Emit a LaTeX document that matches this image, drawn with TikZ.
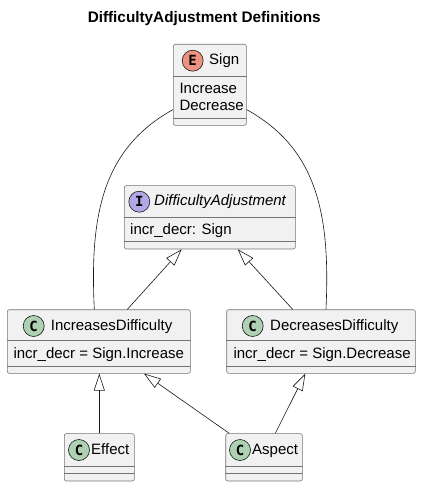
\documentclass[tikz,border=0pt]{standalone}
\usepackage{fontspec}
\setmainfont{Liberation Sans}
\newfontfamily\spotfont{DejaVu Sans Mono}
\usetikzlibrary{arrows.meta}

\definecolor{boxfill}{HTML}{F1F1F1}
\definecolor{boxline}{HTML}{181818}
\definecolor{enumspot}{HTML}{EB937F}
\definecolor{ifacespot}{HTML}{B4A7E5}
\definecolor{classspot}{HTML}{ADD1B2}

\tikzset{
  umlbox/.style={draw=boxline!60, line width=0.6pt, fill=boxfill, rounded corners=2pt, inner sep=0pt},
  spot/.style={circle, draw=boxline, line width=0.6pt, minimum size=21pt, inner sep=0pt,
    font=\spotfont\fontsize{14}{14}\selectfont\bfseries},
  lbl/.style={anchor=west, inner sep=0pt, text height=11pt, text depth=3pt,
    font=\fontsize{15}{18}\selectfont},
  sep/.style={draw=boxline!60, line width=0.6pt},
  extends/.style={draw=boxline, line width=0.6pt, -{Triangle[open, length=17pt, width=11pt]}},
  assoc/.style={draw=boxline, line width=0.6pt},
}

\begin{document}
\begin{tikzpicture}[x=1pt, y=-1pt]
    \useasboundingbox (0,0) rectangle (421,487);

    \node[font=\fontsize{15.3}{18}\selectfont\bfseries] (title) at (204.2,19) {DifficultyAdjustment Definitions};

    % enum Sign
    \node[umlbox, minimum width=73pt, minimum height=81pt] (sign) at (209.8,84.8) {};
    \draw[sep] ([yshift=-32pt]sign.north west) -- ([yshift=-32pt]sign.north east);
    \draw[sep] ([yshift=7pt]sign.south west) -- ([yshift=7pt]sign.south east);
    \node[spot, fill=enumspot] (signspot) at (192.7,60.7) {E};
    \node[lbl] (signname) at (209,60.7) {Sign};
    \node[lbl] (signinc) at (179.3,89) {Increase};
    \node[lbl] (signdec) at (179.3,106) {Decrease};

    % interface DifficultyAdjustment
    \node[umlbox, minimum width=171pt, minimum height=63.3pt] (adjust) at (209.8,217.3) {};
    \draw[sep] ([yshift=-31.6pt]adjust.north west) -- ([yshift=-31.6pt]adjust.north east);
    \draw[sep] ([yshift=8.3pt]adjust.south west) -- ([yshift=8.3pt]adjust.south east);
    \node[spot, fill=ifacespot] (adjustspot) at (139.3,201.7) {I};
    \node[lbl, font=\fontsize{15}{18}\selectfont\itshape] (adjustname) at (154,201.7) {DifficultyAdjustment};
    \node[lbl] (adjustattr) at (130,230) {incr\_decr: Sign};

    % class IncreasesDifficulty
    \node[umlbox, minimum width=183pt, minimum height=63.6pt] (incdiff) at (98.8,341.5) {};
    \draw[sep] ([yshift=-31.3pt]incdiff.north west) -- ([yshift=-31.3pt]incdiff.north east);
    \draw[sep] ([yshift=7.6pt]incdiff.south west) -- ([yshift=7.6pt]incdiff.south east);
    \node[spot, fill=classspot] (incspot) at (33.7,326) {C};
    \node[lbl] (incname) at (50.7,326) {IncreasesDifficulty};
    \node[lbl] (incattr) at (13.3,354.3) {incr\_decr = Sign.Increase};

    % class DecreasesDifficulty
    \node[umlbox, minimum width=188.6pt, minimum height=63.6pt] (decdiff) at (321,341.5) {};
    \draw[sep] ([yshift=-31.3pt]decdiff.north west) -- ([yshift=-31.3pt]decdiff.north east);
    \draw[sep] ([yshift=7.6pt]decdiff.south west) -- ([yshift=7.6pt]decdiff.south east);
    \node[spot, fill=classspot] (decspot) at (252.7,326) {C};
    \node[lbl] (decname) at (270,326) {DecreasesDifficulty};
    \node[lbl] (decattr) at (233.3,354.3) {incr\_decr = Sign.Decrease};

    % class Effect
    \node[umlbox, minimum width=70pt, minimum height=47.3pt] (effect) at (99.3,457.3) {};
    \draw[sep] ([yshift=15.3pt]effect.south west) -- ([yshift=15.3pt]effect.south east);
    \draw[sep] ([yshift=7.7pt]effect.south west) -- ([yshift=7.7pt]effect.south east);
    \node[spot, fill=classspot] (effectspot) at (79,450) {C};
    \node[lbl] (effectname) at (91,450) {Effect};

    % class Aspect
    \node[umlbox, minimum width=76.6pt, minimum height=47.3pt] (aspect) at (264,457.3) {};
    \draw[sep] ([yshift=15.3pt]aspect.south west) -- ([yshift=15.3pt]aspect.south east);
    \draw[sep] ([yshift=7.7pt]aspect.south west) -- ([yshift=7.7pt]aspect.south east);
    \node[spot, fill=classspot] (aspectspot) at (240,450) {C};
    \node[lbl] (aspectname) at (252,450) {Aspect};

    % links to Sign
    \draw[assoc] ([yshift=16pt]sign.south west) .. controls (100,150) and (90,220) .. ([xshift=-4.5pt]incdiff.north);
    \draw[assoc] ([yshift=16pt]sign.south east) .. controls (320,150) and (330,220) .. ([xshift=5pt]decdiff.north);

    % inheritance
    \draw[extends] ([xshift=28.5pt]incdiff.north) -- ([xshift=-28.1pt]adjust.south);
    \draw[extends] ([xshift=-28.3pt]decdiff.north) -- ([xshift=27.9pt]adjust.south);
    \draw[extends] (effect.north) -- (effect.north |- incdiff.south);
    \draw[extends] ([xshift=-34.7pt]aspect.north) -- ([xshift=45.2pt]incdiff.south);
    \draw[extends] ([xshift=11.3pt]aspect.north) -- ([xshift=-15.7pt]decdiff.south);
\end{tikzpicture}
\end{document}
